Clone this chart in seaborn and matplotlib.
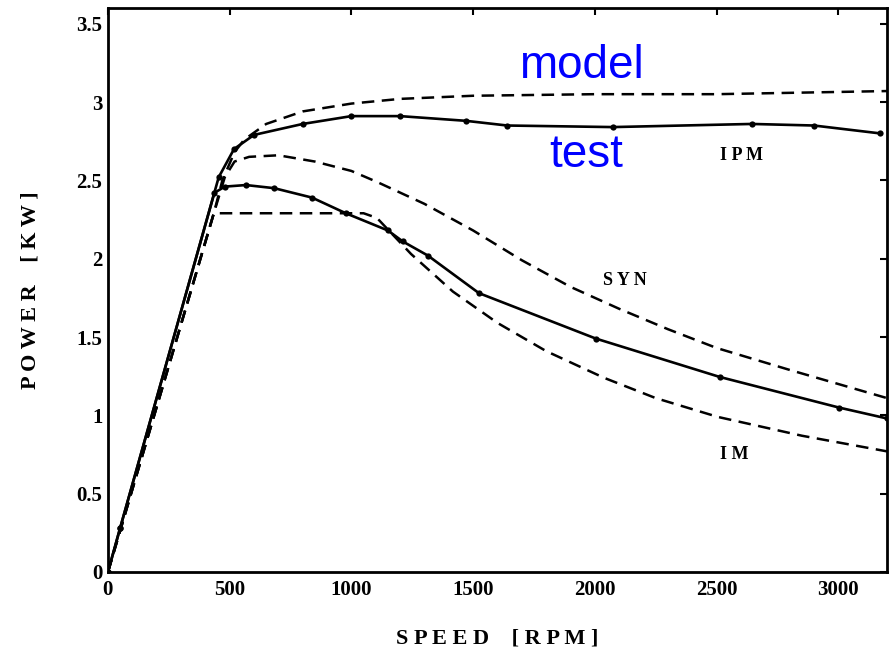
import matplotlib
matplotlib.use("Agg")
import matplotlib.pyplot as plt
import seaborn as sns
import pandas as pd

# ---- data ----
ipm_test_rpm = [0, 50, 455, 518, 600, 800, 1000, 1200, 1470, 1640, 2074, 2645, 2900, 3170]
ipm_test_kw  = [0, 0.28, 2.52, 2.70, 2.79, 2.86, 2.91, 2.91, 2.88, 2.85, 2.84, 2.86, 2.85, 2.80]

syn_test_rpm = [0, 50, 437, 480, 567, 683, 838, 977, 1150, 1211, 1314, 1524, 2004, 2513, 3002, 3200]
syn_test_kw  = [0, 0.28, 2.42, 2.46, 2.47, 2.45, 2.39, 2.29, 2.18, 2.11, 2.02, 1.78, 1.49, 1.245, 1.05, 0.98]

ipm_model_rpm = [0, 435, 470, 520, 560, 650, 800, 1000, 1200, 1500, 2000, 2500, 3200]
ipm_model_kw  = [0, 2.29, 2.50, 2.68, 2.76, 2.86, 2.94, 2.99, 3.02, 3.04, 3.05, 3.05, 3.07]

syn_model_rpm = [0, 435, 480, 520, 580, 700, 850, 1000, 1105, 1300, 1500, 1700, 1900, 2100, 2300, 2500, 2800, 3000, 3200]
syn_model_kw  = [0, 2.29, 2.52, 2.62, 2.65, 2.66, 2.62, 2.56, 2.49, 2.35, 2.18, 1.99, 1.82, 1.68, 1.55, 1.43, 1.29, 1.20, 1.11]

im_model_rpm = [0, 435, 1050, 1105, 1245, 1417, 1600, 1800, 2037, 2250, 2505, 2850, 3200]
im_model_kw  = [0, 2.29, 2.29, 2.26, 2.03, 1.79, 1.59, 1.41, 1.24, 1.11, 0.99, 0.87, 0.77]

x_ticks = [0, 500, 1000, 1500, 2000, 2500, 3000]
y_ticks = [0, 0.5, 1, 1.5, 2, 2.5, 3, 3.5]
y_ticklabels = ["0", "0.5", "1", "1.5", "2", "2.5", "3", "3.5"]

# ---- figure ----
sns.set_theme(style="white")
plt.rcParams['font.family'] = ['Liberation Serif', 'DejaVu Serif']
plt.rcParams['text.color'] = 'black'
plt.rcParams['axes.labelcolor'] = 'black'

fig = plt.figure(figsize=(8.92, 6.52), dpi=100)
ax = fig.add_axes([0.121, 0.1227, 0.8734, 0.865])

solid_kw = dict(color="black", linewidth=1.9, marker="o", markersize=4.5,
                markeredgewidth=0, estimator=None, sort=False)
dash_kw = dict(color="black", linewidth=1.8, estimator=None, sort=False)

for rpm, kw in [(ipm_test_rpm, ipm_test_kw), (syn_test_rpm, syn_test_kw)]:
    df = pd.DataFrame({"rpm": rpm, "kw": kw})
    sns.lineplot(data=df, x="rpm", y="kw", ax=ax, **solid_kw)

for rpm, kw in [(ipm_model_rpm, ipm_model_kw), (syn_model_rpm, syn_model_kw), (im_model_rpm, im_model_kw)]:
    df = pd.DataFrame({"rpm": rpm, "kw": kw})
    lines_before = len(ax.lines)
    sns.lineplot(data=df, x="rpm", y="kw", ax=ax, **dash_kw)
    for ln in ax.lines[lines_before:]:
        ln.set_dashes([5, 3])

ax.set_xlim(0, 3200)
ax.set_ylim(0, 3.6)
ax.set_xticks(x_ticks)
ax.set_xticklabels([str(t) for t in x_ticks])
ax.set_yticks(y_ticks)
ax.set_yticklabels(y_ticklabels)

for lab in ax.get_xticklabels() + ax.get_yticklabels():
    lab.set_fontweight("bold")
    lab.set_fontsize(15)
    lab.set_color("black")

ax.tick_params(axis="both", which="both", direction="in", length=5, width=1.5,
               top=True, right=True, colors="black", pad=6)
ax.tick_params(axis="y", pad=4)
for sp in ax.spines.values():
    sp.set_visible(True)
    sp.set_color("black")
    sp.set_linewidth(2.0)

ax.set_xlabel("S P E E D    [ R P M ]", fontsize=16, fontweight="bold", labelpad=20, color="black")
ax.set_ylabel("P O W E R    [ K W ]", fontsize=16, fontweight="bold", labelpad=26, color="black")

# annotations
ax.text(2604, 2.66, "I P M", fontsize=13, fontweight="bold", ha="center", va="center", color="black")
ax.text(2123, 1.86, "S Y N", fontsize=13, fontweight="bold", ha="center", va="center", color="black")
ax.text(2571, 0.75, "I M", fontsize=13, fontweight="bold", ha="center", va="center", color="black")
ax.text(1943, 3.23, "model", fontsize=33, color="#0000FF", ha="center", va="center",
        family=["Liberation Sans", "DejaVu Sans"])
ax.text(1963, 2.66, "test", fontsize=33, color="#0000FF", ha="center", va="center",
        family=["Liberation Sans", "DejaVu Sans"])

fig.savefig("out.png", dpi=100)
